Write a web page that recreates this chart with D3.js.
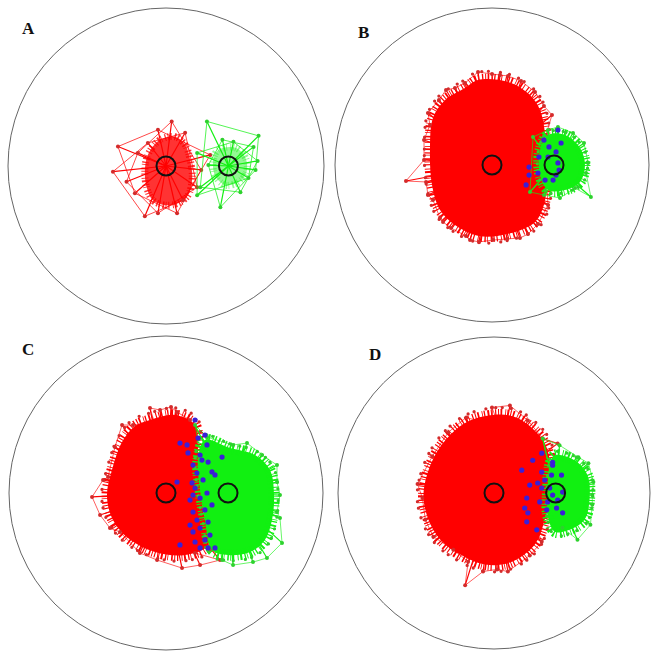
<!DOCTYPE html>
<html>
<head>
<meta charset="utf-8">
<script src="https://cdn.jsdelivr.net/npm/d3@7"></script>
<style>
  body { margin: 0; background: #fff; }
</style>
</head>
<body>
<svg id="chart" width="651" height="652"></svg>
<script>
// arena coordinates in cm: arena radius 100, origin at arena centre, y pointing down
const arenaRadius = 100
const redStart = [0, 0]
const greenStart = [39.5, 0]

// panel A
const redBodyA = [[-3.8,-16.6],[5.7,-18.5],[12.1,-13.4],[15.3,-3.8],[16.6,7.6],[14,18.5],[7.6,23.6],[-0.6,24.8],[-8.3,21.7],[-12.1,14],[-13.4,3.8],[-11.5,-7]]
const redTipsA = [[3.6,-28.2],[12.1,-21],[28,-7],[22.3,2.5],[19.7,13.4],[10.8,21.7],[7,29.9],[-5.1,29.9],[-13.4,31.8],[-19.7,17.2],[-25,10],[-33.6,3.6],[-30.4,-12.3],[-17.8,-8.3],[-11.5,-14.6],[-5.1,-22.9]]
const greenBodyA = [[33.1,-10.2],[44,-11.5],[50.3,-5.1],[51,3.8],[45.9,10.2],[37.6,12.1],[31.2,6.4],[29.9,-3.8]]
const greenTipsA = [[25.9,-28.2],[35.7,-16.6],[42.7,-15.3],[58.6,-19.1],[55.4,-12.1],[58,-3.2],[56.7,2.5],[52.2,7.6],[47.1,16.6],[34.4,26.1],[19.7,18.5],[21.7,13.4],[26.8,-0.6],[19.7,-8.3]]
const blueA = []

// panel B
const redBodyB = [[-8.9,-54.1],[10.2,-52.9],[24.2,-44.6],[30.6,-35],[33.8,-19.1],[33.8,0],[33.8,22.3],[27.4,36.3],[9.6,44],[-8.3,45.2],[-23.6,38.2],[-33.1,28.7],[-38.2,12.7],[-39.5,-9.6],[-37.6,-29.9],[-29.9,-41.4],[-17.2,-49]]
const redTipsB = [[-8.9,-59.2],[0,-58],[5.1,-57.3],[10.2,-56.7],[18.5,-53.5],[27.4,-46.5],[33.1,-37.6],[38.2,-31.9],[34.4,-19.1],[33.8,0],[35.7,25.5],[29.3,37.6],[22.9,44],[17.8,46.5],[9.6,47.1],[0.6,47.8],[-8.3,49],[-14,47.8],[-16.6,45.2],[-26.1,40.1],[-31.2,36.3],[-33.1,33.8],[-37.6,22.3],[-40.8,19.1],[-42,10.8],[-54.8,10.2],[-43.3,-3.2],[-43.3,-15.9],[-39.5,-25.5],[-40.8,-33.1],[-33.8,-41.4],[-29.3,-47.8],[-23.6,-49],[-17.2,-52.2]]
const greenBodyB = [[35.7,-19.1],[46.5,-19.1],[56.1,-10.8],[59.2,0],[56.1,10.8],[46.5,15.9],[35.7,15.9],[30.6,6.4],[30.6,-9.6]]
const greenTipsB = [[26.1,-17.8],[35.7,-22.3],[42,-24.2],[51.6,-20.4],[58.6,-14],[61.2,-1.3],[59.9,5.1],[63,20.4],[52.9,14.7],[43.3,21],[33.1,19.1],[24.2,17.2]]
const blueB = [[42,-22.3],[33.1,-15.9],[35.7,-5.1],[29.9,-5.1],[23.6,1.3],[23.6,6.4],[21.7,12.7],[29.3,5.1],[38.9,9.6],[40.8,6.4],[42.7,3.2],[44,-14],[40.8,-8.3],[42,-1.3],[36.3,-11.5],[33.8,9.6]]

// panel C
const redBodyC = [[-10.2,-46.5],[5.7,-49.7],[18.5,-43.3],[20.4,-27.4],[21.7,-8.3],[23.6,10.8],[26.8,33.1],[12.1,39.5],[-7,37.6],[-24.2,28.7],[-34.4,15.9],[-37.6,1.3],[-34.4,-14.6],[-28,-32.5],[-19.7,-42.7]]
const redTipsC = [[-10.2,-54.1],[-3.8,-52.9],[3.2,-54.8],[7,-51.6],[15.3,-46.5],[-21,-43.3],[-28,-43.3],[-32.5,-29.3],[-36.9,-10.2],[-40.1,-8.3],[-47.1,2.5],[-42,14],[-35.7,22.3],[-29.3,24.8],[-16.6,38.2],[-5.7,42.7],[10.2,47.8],[21.7,45.9],[34.4,42.7],[18.5,38.2]]
const greenBodyC = [[24.8,-33.8],[40.8,-28.7],[56.7,-24.2],[66.2,-14.6],[68.8,1.3],[67.5,17.2],[63,29.9],[53.5,37.6],[39.5,39.5],[29.3,36.3],[24.8,17.2],[21.7,-1.9],[20.4,-21]]
const greenTipsC = [[18.5,-43.3],[26.1,-35.7],[42.7,-30.6],[51.6,-31.8],[61.2,-24.2],[70.7,-17.8],[70.7,-7],[72.6,1.3],[70.7,12.1],[72.6,15.9],[73.9,31.8],[64.3,41.4],[55.4,44],[42.7,45.9],[35.7,42.7]]
const blueC = [[18.5,-46.5],[24.8,-36.9],[8.9,-31.8],[13.4,-30.6],[26.1,-30.6],[21.7,-24.2],[26.8,-19.7],[35.7,-22.9],[17.2,-17.8],[19.7,-12.7],[29.3,-13.4],[31.2,-11.5],[23.6,-8.3],[16.6,-6.4],[7,-7],[17.2,1.3],[21.7,3.2],[26.1,0],[29.3,7.6],[24.8,10.8],[17.2,12.1],[19.7,17.2],[26.8,18.5],[21.7,22.3],[17.2,24.8],[28,26.8],[8.9,33.1],[21.7,35],[26.8,35],[31.2,35],[18.5,31.2],[15.3,4.5],[22.9,-21],[18.5,-3.2],[15.3,20.4],[24.8,29.9],[14,-25.5],[20.4,-35]]

// panel D
const redBodyD = [[-15.3,-46.5],[10.2,-49.7],[26.1,-40.1],[34.4,-27.4],[35.7,-1.9],[32.5,17.2],[26.1,33.1],[10.2,44.6],[-5.7,45.9],[-21.7,39.5],[-34.4,29.9],[-42,17.2],[-45.2,1.3],[-40.8,-17.8],[-31.2,-33.8]]
const redTipsD = [[-1.3,-54.8],[10.2,-56.1],[21.7,-46.5],[31.2,-35],[40.8,-31.8],[-17.8,-48.4],[-29.3,-38.9],[-39.5,-23.6],[-49,-5.7],[-45.9,3.2],[-44,17.2],[-38.9,28],[-26.1,36.3],[-16.6,44],[-18.5,59.2],[-7,50.3],[1.9,49],[8.9,50.3],[22.9,40.1],[30.6,31.2]]
const greenBodyD = [[38.9,-24.2],[51.6,-21],[59.9,-11.5],[61.2,4.5],[58,17.2],[48.4,23.6],[38.9,24.8],[34.4,14],[34.4,-1.9],[35.7,-17.8]]
const greenTipsD = [[31.2,-35],[42,-30.6],[54.1,-22.9],[60.5,-19.1],[63.7,-7],[63,1.3],[63,7.6],[61.8,20.4],[53.5,29.9],[43.9,22.3]]
const blueD = [[17.8,-14.6],[24.8,-21],[30.6,-25.5],[37.6,-19.7],[30.6,-13.4],[32.5,-8.3],[28,-6.4],[22.9,-5.1],[30.6,-3.2],[36.9,-11.5],[43.3,-11.5],[37.6,1.3],[44,-0.6],[40.8,4.5],[34.4,5.7],[29.3,5.7],[21,3.2],[19.7,9.6],[33.8,10.8],[40.1,9.6],[44,12.7],[21.7,12.7],[21,18.5],[27.4,23.6],[37.6,-17.8],[35.7,-3.2]]

const panelLabels = ['A', 'B', 'C', 'D']

const panels = [
  { label: panelLabels[0], cx: 166, cy: 166, r: 158, lx: 22, ly: 34, redBody: redBodyA, redTips: redTipsA, greenBody: greenBodyA, greenTips: greenTipsA, blue: blueA, sparse: true },
  { label: panelLabels[1], cx: 492, cy: 165, r: 157, lx: 358, ly: 38, redBody: redBodyB, redTips: redTipsB, greenBody: greenBodyB, greenTips: greenTipsB, blue: blueB, sparse: false },
  { label: panelLabels[2], cx: 166, cy: 493, r: 157, lx: 22, ly: 355, redBody: redBodyC, redTips: redTipsC, greenBody: greenBodyC, greenTips: greenTipsC, blue: blueC, sparse: false },
  { label: panelLabels[3], cx: 494, cy: 493, r: 156, lx: 369, ly: 360, redBody: redBodyD, redTips: redTipsD, greenBody: greenBodyD, greenTips: greenTipsD, blue: blueD, sparse: false }
]

// uneven hair round the dense cores
const fringeDash = '1 1.4 1.6 2.8 0.8 1.1 1.3 2.2 1.9 1.5 0.9 3.1 1.2 1.7'

const svg = d3.select('#chart')

panels.forEach(p => {
  let x = d3.scaleLinear().domain([-arenaRadius, arenaRadius]).range([p.cx - p.r, p.cx + p.r])
  let y = d3.scaleLinear().domain([-arenaRadius, arenaRadius]).range([p.cy - p.r, p.cy + p.r])
  let blob = d3.line().x(d => x(d[0])).y(d => y(d[1])).curve(d3.curveCatmullRomClosed)
  let ring = d3.line().x(d => x(d[0])).y(d => y(d[1])).curve(d3.curveLinearClosed)
  let g = svg.append('g').attr('class', 'panel-' + p.label)

  // arena wall
  g.append('circle')
    .attr('cx', x(0)).attr('cy', y(0))
    .attr('r', x(arenaRadius) - x(0))
    .attr('fill', 'none')
    .attr('stroke', '#666')
    .attr('stroke-width', 1)

  let drawCloud = (body, tips, start, fill, dotFill, bodyOpacity) => {
    let c = g.append('g')
    let n = tips.length
    // walks criss-crossing between end points (visible only in the sparse panel)
    let tangle = p.sparse ? tips.map((d, i) => tips[(i * 3) % n]) : tips
    c.append('path')
      .attr('d', ring(tangle))
      .attr('fill', 'none')
      .attr('stroke', fill)
      .attr('stroke-width', 0.9)
      .attr('opacity', p.sparse ? 0.8 : 0.7)
    // paths from start to the furthest points
    c.selectAll('line.spoke')
      .data(tips)
      .enter()
      .append('line')
      .attr('class', 'spoke')
      .attr('x1', x(start[0])).attr('y1', y(start[1]))
      .attr('x2', d => x(d[0])).attr('y2', d => y(d[1]))
      .attr('stroke', fill)
      .attr('stroke-width', 1.2)
    // dense core
    c.append('path')
      .attr('d', blob(body))
      .attr('fill', fill)
      .attr('fill-opacity', bodyOpacity)
      .attr('stroke', 'none')
    // hairy fringe round the core
    c.append('path')
      .attr('d', blob(body))
      .attr('fill', 'none')
      .attr('stroke', fill)
      .attr('stroke-width', p.sparse ? 7 : 11)
      .attr('stroke-dasharray', fringeDash)
      .attr('opacity', bodyOpacity)
    // end-point dots sprinkled along the outer ring
    if (!p.sparse) {
      c.append('path')
        .attr('d', blob(body))
        .attr('fill', 'none')
        .attr('stroke', dotFill)
        .attr('stroke-width', 3)
        .attr('stroke-linecap', 'round')
        .attr('stroke-dasharray', '0 9 0 6 0 11')
        .attr('transform', `translate(${x(start[0])},${y(start[1])}) scale(1.09) translate(${-x(start[0])},${-y(start[1])})`)
    }
    c.selectAll('circle.tip')
      .data(tips)
      .enter()
      .append('circle')
      .attr('class', 'tip')
      .attr('cx', d => x(d[0])).attr('cy', d => y(d[1]))
      .attr('r', 2)
      .attr('fill', dotFill)
  }

  drawCloud(p.redBody, p.redTips, redStart, '#ff0000', '#d42b2b', p.sparse ? 0.8 : 1)
  drawCloud(p.greenBody, p.greenTips, greenStart, '#11f011', '#2ed12e', p.sparse ? 0.45 : 1)

  g.selectAll('circle.meet')
    .data(p.blue)
    .enter()
    .append('circle')
    .attr('class', 'meet')
    .attr('cx', d => x(d[0])).attr('cy', d => y(d[1]))
    .attr('r', 2.6)
    .attr('fill', '#3a1fd8')

  // start zones
  g.selectAll('circle.start')
    .data([redStart, greenStart])
    .enter()
    .append('circle')
    .attr('class', 'start')
    .attr('cx', d => x(d[0])).attr('cy', d => y(d[1]))
    .attr('r', 9.5)
    .attr('fill', 'none')
    .attr('stroke', '#111')
    .attr('stroke-width', 2)

  g.append('text')
    .attr('x', p.lx).attr('y', p.ly)
    .attr('font-family', 'Liberation Serif, Times New Roman, serif')
    .attr('font-weight', 'bold')
    .attr('font-size', 17)
    .attr('fill', '#111')
    .text(p.label)
})
</script>
</body>
</html>
